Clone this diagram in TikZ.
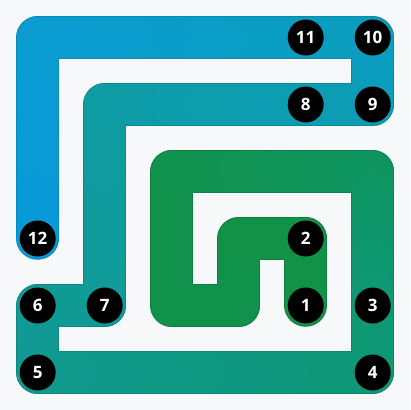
\documentclass[tikz,border=0pt]{standalone}
\usepackage{fontspec}
\setmainfont{Open Sans}
\usetikzlibrary{calc}
\definecolor{bgc}{HTML}{F7F8FA}
\definecolor{cA}{RGB}{18,146,70}
\definecolor{cB}{RGB}{17,146,76}
\definecolor{cC}{RGB}{14,148,94}
\definecolor{cD}{RGB}{14,152,116}
\definecolor{cE}{RGB}{16,153,142}
\definecolor{cF}{RGB}{16,154,150}
\definecolor{cG}{RGB}{14,156,162}
\definecolor{cH}{RGB}{12,157,180}
\definecolor{cI}{RGB}{10,157,192}
\definecolor{cJ}{RGB}{10,156,208}
\definecolor{cK}{RGB}{8,154,216}
\tikzset{
  snake/.style={line cap=round, line join=round},
  num/.style={circle, fill=black, text=white, minimum size=36pt, inner sep=0pt,
    font=\fontsize{17pt}{17pt}\selectfont\bfseries}
}
\newcommand\snakepass[2]{%
\foreach \ax/\ay/\bx/\by/\n/\ca/\cb in {4/4/4/3/1/cA/cA, 4/3/3/3/1/cA/cA, 3/3/3/4/1/cA/cB, 3/4/2/4/1/cB/cB,
  2/4/2/2/2/cB/cB, 2/2/5/2/3/cB/cC, 5/2/5/4/2/cC/cD, 5/4/5/5/1/cD/cD, 5/5/0/5/5/cD/cE, 0/5/0/4/1/cE/cF,
  0/4/1/4/1/cF/cF, 1/4/1/1/3/cF/cG, 1/1/4/1/3/cG/cH, 4/1/5/1/1/cH/cH, 5/1/5/0/1/cH/cI, 5/0/4/0/1/cI/cI,
  4/0/0/0/4/cI/cJ, 0/0/0/3/3/cJ/cK} {
  \pgfmathtruncatemacro\m{4*\n}
  \foreach \k in {1,...,\m} {
    \pgfmathtruncatemacro\p{round((\k-0.5)/\m*100)}
    \pgfmathsetmacro\fa{(\k-1)/\m}
    \pgfmathsetmacro\fb{\k/\m}
    \draw[snake, line width=#1, color=\cb!\p!\ca!#2!black] ($(\ax,\ay)!\fa!(\bx,\by)$) -- ($(\ax,\ay)!\fb!(\bx,\by)$);
  }
}}
\begin{document}
\begin{tikzpicture}[x=67pt, y=-67pt]
\fill[bgc] (-37.7pt,37.5pt) rectangle (372.3pt,-372.5pt);
\useasboundingbox (-37.7pt,37.5pt) rectangle (372.3pt,-372.5pt);
\snakepass{42.5pt}{88}
\snakepass{40.5pt}{100}
\node[num] (n1) at (4,4) {1};
\node[num] (n2) at (4,3) {2};
\node[num] (n3) at (5,4) {3};
\node[num] (n4) at (5,5) {4};
\node[num] (n5) at (0,5) {5};
\node[num] (n6) at (0,4) {6};
\node[num] (n7) at (1,4) {7};
\node[num] (n8) at (4,1) {8};
\node[num] (n9) at (5,1) {9};
\node[num] (n10) at (5,0) {10};
\node[num] (n11) at (4,0) {11};
\node[num] (n12) at (0,3) {12};
\end{tikzpicture}
\end{document}
